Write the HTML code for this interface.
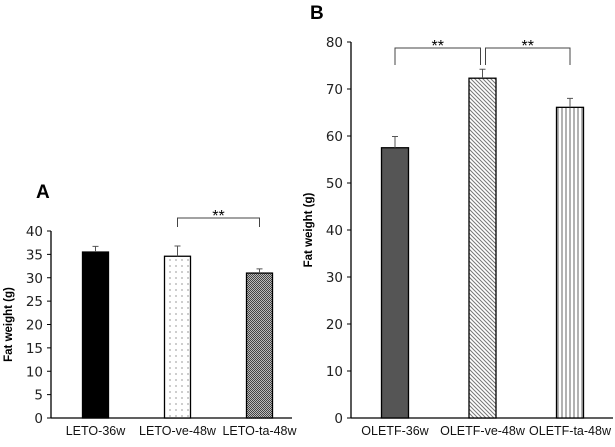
<!DOCTYPE html>
<html><head><meta charset="utf-8"><style>
body{margin:0;background:#fff;width:615px;height:442px;overflow:hidden}
svg{font-family:"Liberation Sans",sans-serif}
</style></head><body>
<svg width="615" height="442">
<defs>
<pattern id="dots" width="6" height="6" patternUnits="userSpaceOnUse"><rect width="6" height="6" fill="#fff"/><circle cx="2" cy="2" r="0.6" fill="#555"/></pattern>
<pattern id="checker" width="2" height="2" patternUnits="userSpaceOnUse"><rect width="2" height="2" fill="#bbb"/><rect width="1" height="1" fill="#444"/><rect x="1" y="1" width="1" height="1" fill="#444"/></pattern>
<pattern id="diag" width="4" height="4" patternUnits="userSpaceOnUse"><rect width="4" height="4" fill="#fff"/><path d="M-1,-1 L5,5 M-1,3 L1,5 M3,-1 L5,1" stroke="#777" stroke-width="1"/></pattern>
<pattern id="vert" width="4" height="4" patternUnits="userSpaceOnUse"><rect width="4" height="4" fill="#fff"/><line x1="2" y1="0" x2="2" y2="4" stroke="#666" stroke-width="1"/></pattern>
</defs>
<g id="chartA"></g>
<g id="chartB"></g>
</svg>
<script>
const catsA=["LETO-36w","LETO-ve-48w","LETO-ta-48w"];
const valsA=[35.5,34.6,31.0];
const errA=[1.2,2.2,0.9];
const ticksA=[0,5,10,15,20,25,30,35,40];
const catsB=["OLETF-36w","OLETF-ve-48w","OLETF-ta-48w"];
const valsB=[57.5,72.3,66.1];
const errB=[2.4,1.9,1.9];
const ticksB=[0,10,20,30,40,50,60,70,80];
const NS="http://www.w3.org/2000/svg";
function mk(p,t,a,txt){const e=document.createElementNS(NS,t);for(const k in a)e.setAttribute(k,a[k]);if(txt!==undefined)e.textContent=txt;p.appendChild(e);return e;}
function draw(g,o){
 const y=v=>o.y0-(v/o.max)*(o.y0-o.yTop);
 const x=i=>o.x0+o.first+i*o.step;
 const ax=mk(g,'line',{x1:o.x0,y1:o.y0,x2:o.x0,y2:o.yTop,stroke:'#000','stroke-width':1.3});
 
 const xa=mk(g,'line',{x1:o.x0,y1:o.y0,x2:o.xEnd,y2:o.y0,stroke:'#000','stroke-width':1.3});
 
 o.ticks.forEach(t=>{
  const tk=mk(g,'line',{x1:o.x0-4,y1:y(t),x2:o.x0,y2:y(t),stroke:'#000'});
  
  const l=mk(g,'text',{x:o.x0-8,y:y(t)+5,'text-anchor':'end','font-size':13.5,fill:'#222','font-family':'DejaVu Sans, sans-serif'},t);
  
 });
 o.vals.forEach((v,i)=>{
  const cx=x(i);
  const b=mk(g,'rect',{x:cx-o.bw/2,y:y(v),width:o.bw,height:o.y0-y(v),fill:o.fills[i],stroke:'#000','stroke-width':1.3});
  
  const e=mk(g,'path',{d:`M${cx},${y(v)} V${y(v+o.err[i])} M${cx-3},${y(v+o.err[i])} H${cx+3}`,stroke:'#555',fill:'none'});
  
  const l=mk(g,'text',{x:cx,y:o.y0+17,'text-anchor':'middle','font-size':12.5,fill:'#111'},o.cats[i]);
  
 });
 const t=mk(g,'text',{x:0,y:0,transform:`translate(${o.titleX},${(o.y0+o.yTop)/2}) rotate(-90)`,'text-anchor':'middle','font-size':11.5,'font-weight':'bold'},'Fat weight (g)');
 
 const p=mk(g,'text',{x:o.px,y:o.py,'font-size':19,'font-weight':'bold'},o.panel);
 
 o.brackets.forEach(br=>{
  const s=mk(g,'path',{d:`M${x(br[0])+br[2]},${br[4]} V${br[3]} H${x(br[1])+br[5]} V${br[6]}`,stroke:'#444',fill:'none'});
  
  const st=mk(g,'text',{x:(x(br[0])+br[2]+x(br[1])+br[5])/2,y:br[3]+3,'text-anchor':'middle','font-size':16},'**');
  
 });
}
draw(document.getElementById('chartA'),{x0:51,y0:418,yTop:231,max:40,xEnd:292,first:44.5,step:82,bw:26,vals:valsA,err:errA,cats:catsA,ticks:ticksA,fills:['#000','url(#dots)','url(#checker)'],titleX:12,panel:'A',px:36,py:198,brackets:[[1,2,0,218,227,0,227]]});
draw(document.getElementById('chartB'),{x0:351,y0:418,yTop:42,max:80,xEnd:613,first:44,step:87.5,bw:27,vals:valsB,err:errB,cats:catsB,ticks:ticksB,fills:['#555','url(#diag)','url(#vert)'],titleX:312,panel:'B',px:310,py:19,brackets:[[0,1,0,48,65,-2,65],[1,2,3,48,65,0,65]]});
</script>
</body></html>
